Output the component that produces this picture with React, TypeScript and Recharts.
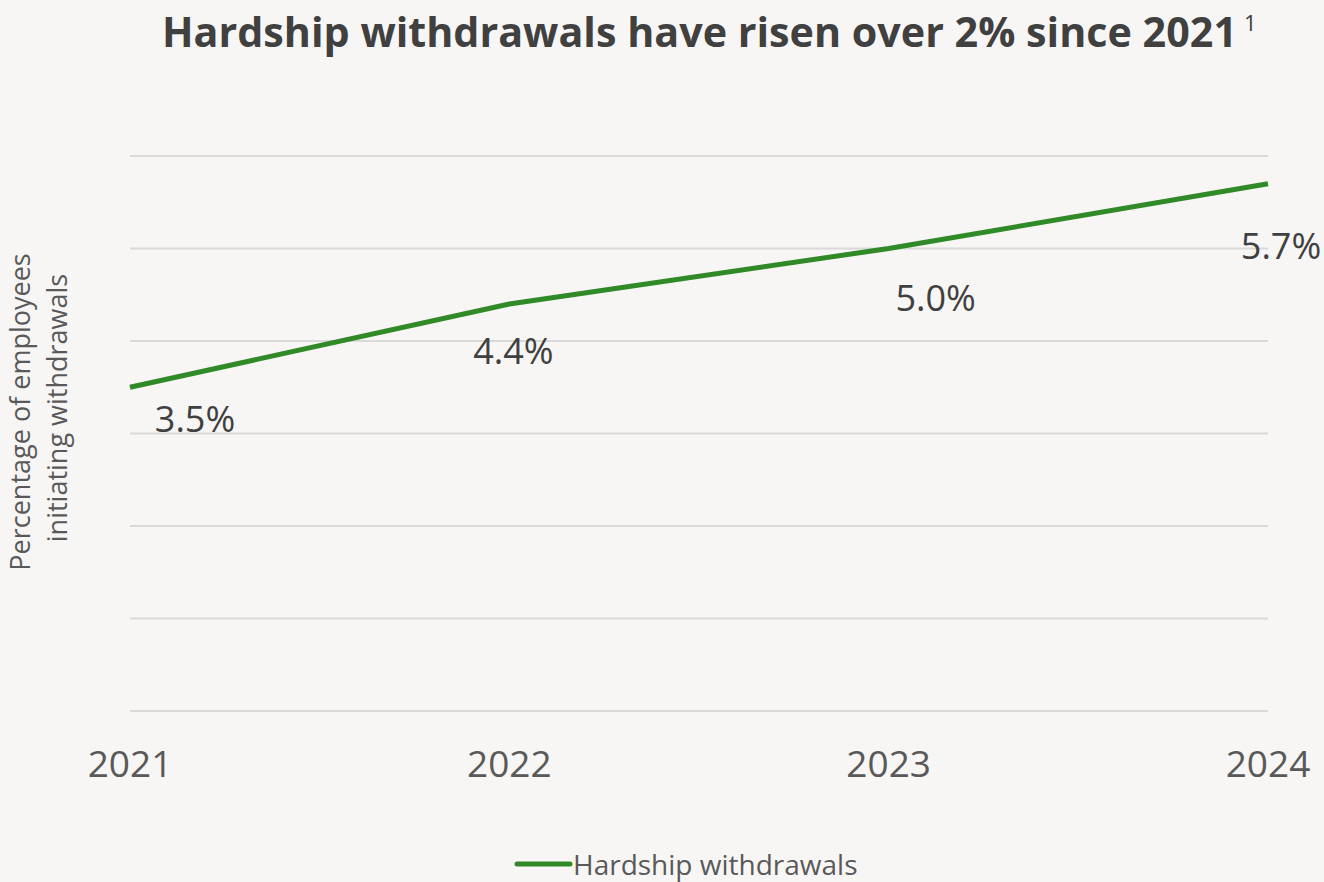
import { useLayoutEffect, useRef, useState } from 'react';
import { LineChart, Line, XAxis, YAxis, CartesianGrid, Legend, LabelList } from 'recharts';

const years = ['2021', '2022', '2023', '2024'];
const hardshipRates = [3.5, 4.4, 5.0, 5.7];
const yTicks = [0, 1, 2, 3, 4, 5, 6];

// hand-placed offsets for the value labels, relative to each point
const labelShift = [
  { dx: 65, dy: 45 },
  { dx: 4, dy: 60 },
  { dx: 47, dy: 62 },
  { dx: 13, dy: 75 },
];

const chartData = years.map((year, i) => ({ year, rate: hardshipRates[i] }));

const FONT = '"Open Sans", "Noto Sans", sans-serif';
const GREEN = '#2f8a27';
const BG = '#f7f6f4';
const TITLE_WIDTH = 1075;

const ValueLabel = (props: any) => {
  const { x, y, value, index } = props;
  const s = labelShift[index] || { dx: 0, dy: 40 };
  return (
    <text
      x={x + s.dx}
      y={y + s.dy}
      textAnchor="middle"
      fontFamily={FONT}
      fontSize={36}
      fill="#404040"
    >
      {`${Number(value).toFixed(1)}%`}
    </text>
  );
};

const AxisTitle = () => (
  <g fontFamily={FONT} fontSize={27} fill="#595959">
    <text transform="translate(30, 412) rotate(-90)" textAnchor="middle">
      Percentage of employees
    </text>
    <text transform="translate(67, 408) rotate(-90)" textAnchor="middle">
      initiating withdrawals
    </text>
  </g>
);

const LegendContent = () => (
  <div style={{ display: 'flex', alignItems: 'center', paddingLeft: 514 }}>
    <svg width={59} height={10}>
      <line x1={3} y1={5} x2={56} y2={5} stroke={GREEN} strokeWidth={5} strokeLinecap="round" />
    </svg>
    <span style={{ fontFamily: FONT, fontSize: 28, lineHeight: '34px', color: '#595959' }}>
      Hardship withdrawals
    </span>
  </div>
);

// y ticks are hidden, only used to place the grid lines
const NoTick = () => <g />;

// condensed bold title: squeeze the glyphs horizontally to the target width
const Title = () => {
  const ref = useRef<SVGTextElement>(null);
  const [sx, setSx] = useState(0.92);
  useLayoutEffect(() => {
    if (ref.current) {
      const w = ref.current.getComputedTextLength();
      if (w > 0) setSx(TITLE_WIDTH / w);
    }
  }, []);
  return (
    <svg width={1324} height={80} style={{ position: 'absolute', left: 0, top: 0 }}>
      <text
        ref={ref}
        transform={`translate(162, 47) scale(${sx}, 1)`}
        fontFamily={FONT}
        fontWeight={700}
        fontSize={42}
        fill="#404040"
      >
        Hardship withdrawals have risen over 2% since 2021
      </text>
      <text x={1244} y={31} fontFamily={FONT} fontSize={22} fill="#404040">
        1
      </text>
    </svg>
  );
};

export default function App() {
  return (
    <div style={{ position: 'absolute', left: 0, top: 0, width: 1324, height: 882, background: BG }}>
      <Title />
      <LineChart
        width={1324}
        height={882}
        data={chartData}
        margin={{ top: 156, right: 56, bottom: 91, left: 0 }}
        style={{ position: 'absolute', left: 0, top: 0 }}
      >
        <CartesianGrid vertical={false} stroke="#d9d9d9" strokeWidth={2} />
        <XAxis
          dataKey="year"
          axisLine={false}
          tickLine={false}
          height={80}
          tick={{ fontFamily: FONT, fontSize: 37, fill: '#595959' }}
          tickMargin={34}
          padding={{ left: 0, right: 0 }}
        />
        <YAxis
          domain={[0, 6]}
          ticks={yTicks}
          width={130}
          tick={<NoTick />}
          axisLine={false}
          tickLine={false}
          label={<AxisTitle />}
        />
        <Legend
          verticalAlign="middle"
          align="center"
          layout="horizontal"
          content={<LegendContent />}
          wrapperStyle={{ top: 847, left: 0, width: 1324 }}
        />
        <Line
          type="linear"
          dataKey="rate"
          stroke={GREEN}
          strokeWidth={5}
          dot={false}
          activeDot={false}
          isAnimationActive={false}
        >
          <LabelList dataKey="rate" content={<ValueLabel />} />
        </Line>
      </LineChart>
    </div>
  );
}
